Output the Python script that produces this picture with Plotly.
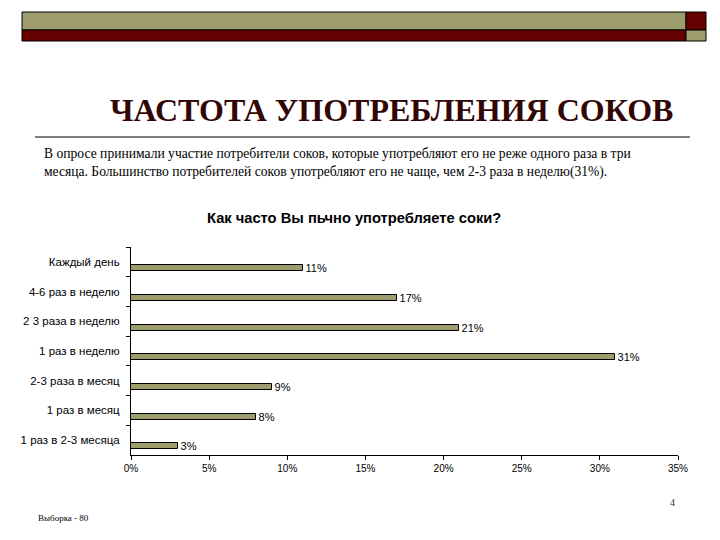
import plotly.graph_objects as go

categories = ["Каждый день", "4-6 раз в неделю", "2 3 раза в неделю", "1 раз в неделю",
              "2-3 раза в месяц", "1 раз в месяц", "1 раз в 2-3 месяца"]
values = [11, 17, 21, 31, 9, 8, 3]
labels = ["11%", "17%", "21%", "31%", "9%", "8%", "3%"]
x_ticks = [0, 5, 10, 15, 20, 25, 30, 35]
x_tick_labels = ["0%", "5%", "10%", "15%", "20%", "25%", "30%", "35%"]

W, H = 720, 540
L, R, T, B = 131, 678, 247, 455

def px(x):
    return (x - L) / (R - L)

def py(y):
    return (B - y) / (B - T)

fig = go.Figure()
fig.add_trace(go.Bar(
    y=categories, x=values, orientation="h",
    width=0.2, offset=0.11,
    marker=dict(color="#9c9c6c", line=dict(color="#000000", width=1)),
    text=labels, texttemplate=" %{text}", textposition="outside", cliponaxis=False, constraintext="none",
    textfont=dict(family="Liberation Sans", size=11, color="#000000"),
    hoverinfo="skip",
))

shapes = []
# banner
shapes.append(dict(type="rect", xref="paper", yref="paper", x0=px(22), x1=px(686), y0=py(30), y1=py(12),
                   fillcolor="#9c9c6c", line=dict(color="#000000", width=1)))
shapes.append(dict(type="rect", xref="paper", yref="paper", x0=px(22), x1=px(686), y0=py(41), y1=py(30),
                   fillcolor="#660000", line=dict(color="#000000", width=1)))
shapes.append(dict(type="rect", xref="paper", yref="paper", x0=px(686), x1=px(706), y0=py(30), y1=py(12),
                   fillcolor="#660000", line=dict(color="#000000", width=1)))
shapes.append(dict(type="rect", xref="paper", yref="paper", x0=px(686), x1=px(706), y0=py(41), y1=py(30),
                   fillcolor="#9c9c6c", line=dict(color="#000000", width=1)))
# title rule
shapes.append(dict(type="line", xref="paper", yref="paper", x0=px(35), x1=px(690), y0=py(137), y1=py(137),
                   line=dict(color="#000000", width=1)))

annotations = [
    dict(text="<b>ЧАСТОТА УПОТРЕБЛЕНИЯ СОКОВ</b>", x=px(391), y=py(110), xref="paper", yref="paper",
         showarrow=False, xanchor="center", yanchor="middle",
         font=dict(family="Liberation Serif", size=32, color="#330606")),
    dict(text="В опросе принимали участие потребители соков, которые употребляют его не реже одного раза в три<br>"
              "месяца. Большинство потребителей соков употребляют его не чаще, чем 2-3 раза в неделю(31%).",
         x=px(42), y=py(144), xref="paper", yref="paper", showarrow=False, xanchor="left", yanchor="top",
         align="left", font=dict(family="Liberation Serif, Times New Roman, serif", size=13.6, color="#000000")),
    dict(text="<b>Как часто Вы пьчно употребляете соки?</b>", x=px(354), y=py(218), xref="paper", yref="paper",
         showarrow=False, xanchor="center", yanchor="middle",
         font=dict(family="Liberation Sans", size=14.7, color="#000000")),
    dict(text="4", x=px(677), y=py(502), xref="paper", yref="paper", showarrow=False,
         xanchor="right", yanchor="middle", font=dict(family="Liberation Serif", size=10, color="#333333")),
    dict(text="Выборка - 80", x=px(36), y=py(518), xref="paper", yref="paper", showarrow=False,
         xanchor="left", yanchor="middle", font=dict(family="Liberation Serif", size=9, color="#000000")),
]

fig.update_layout(
    width=W, height=H,
    margin=dict(l=L, r=W - R, t=T, b=H - B, pad=0),
    paper_bgcolor="#ffffff", plot_bgcolor="#ffffff",
    showlegend=False,
    shapes=shapes, annotations=annotations,
    bargap=0,
    xaxis=dict(range=[0, 35], tickvals=x_ticks, ticktext=x_tick_labels,
               showgrid=False, zeroline=False, showline=True, linecolor="#000000", linewidth=1,
               ticks="outside", ticklen=4, tickcolor="#000000",
               tickfont=dict(family="Liberation Sans", size=10, color="#000000"), fixedrange=True),
    yaxis=dict(type="category", autorange="reversed", categoryorder="array", categoryarray=categories,
               showgrid=False, zeroline=False, showline=True, linecolor="#000000", linewidth=1,
               ticks="outside", ticklen=4, tickcolor="#000000", tickson="boundaries",
               ticklabelstandoff=8,
               tickfont=dict(family="Liberation Sans", size=11.5, color="#000000"), fixedrange=True),
)

fig.write_html("out.html", config={"displayModeBar": False},
               post_script="document.body.style.margin='0';")
